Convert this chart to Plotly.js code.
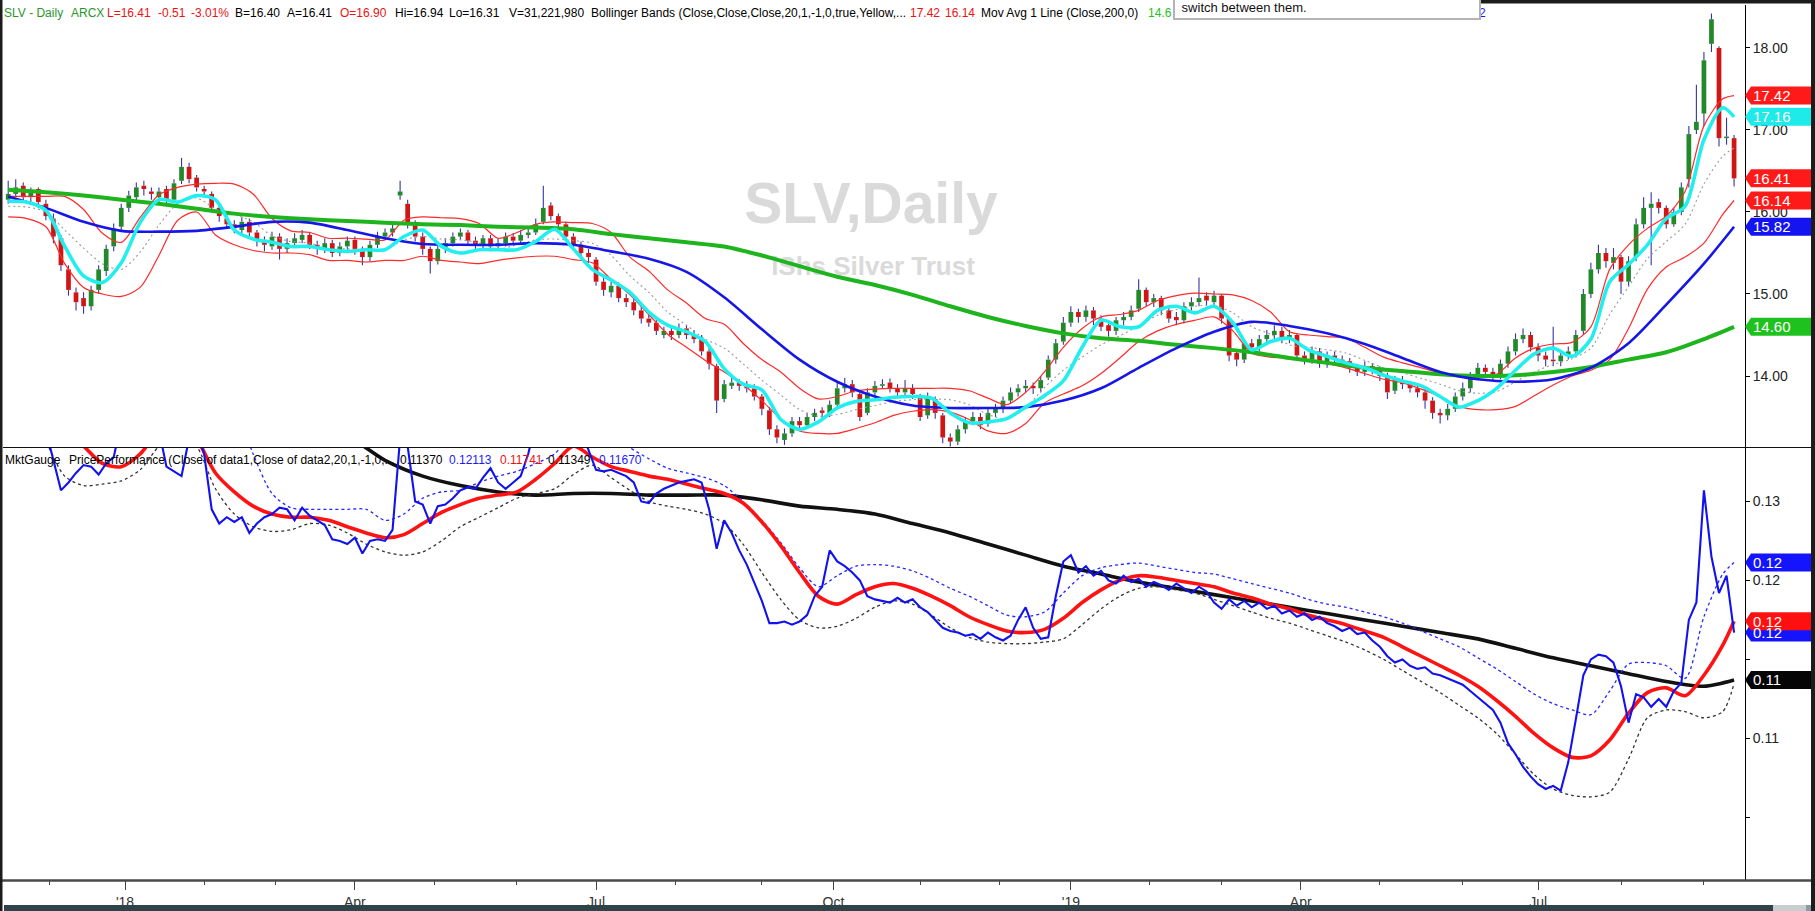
<!DOCTYPE html>
<html><head><meta charset="utf-8">
<script src="https://cdn.plot.ly/plotly-3.0.1.min.js"></script>
<style>html,body{margin:0;padding:0;background:#fff;overflow:hidden}#chart{width:1815px;height:911px}</style>
</head><body><div id="chart"></div>
<script>
// ---------------- DATA ----------------
const candleStep = 2, lineStep = 5, slowStep = 10, lastDay = 458;

const open = [
16.15,16.22,16.32,16.18,16.28,16.10,15.92,15.68,15.30,15.02,
14.95,14.85,15.05,15.28,15.58,15.82,16.05,16.18,16.32,16.25,
16.18,16.28,16.15,16.38,16.55,16.42,16.28,16.22,16.05,15.92,
15.85,15.78,15.88,15.75,15.66,15.58,15.70,15.55,15.62,15.66,
15.72,15.60,15.55,15.62,15.50,15.58,15.66,15.55,15.45,15.60,
15.70,15.75,16.20,16.10,15.85,15.70,15.55,15.40,15.55,15.62,
15.70,15.75,15.65,15.60,15.68,15.58,15.62,15.70,15.65,15.72,
15.75,15.88,16.08,15.95,15.85,15.70,15.60,15.50,15.42,15.15,
15.02,15.10,14.95,14.90,14.80,14.70,14.65,14.50,14.55,14.50,
14.58,14.50,14.45,14.30,14.12,13.72,13.88,13.92,13.88,13.85,
13.75,13.58,13.35,13.22,13.30,13.45,13.40,13.50,13.58,13.55,
13.65,13.85,13.90,13.78,13.55,13.80,13.88,13.92,13.85,13.80,
13.85,13.75,13.52,13.72,13.52,13.25,13.20,13.35,13.45,13.50,
13.42,13.55,13.60,13.70,13.80,13.85,13.88,13.85,13.98,14.20,
14.42,14.65,14.78,14.72,14.80,14.70,14.62,14.55,14.68,14.72,
14.82,15.05,14.90,14.95,14.80,14.72,14.68,14.85,14.90,14.98,
14.90,14.98,14.70,14.28,14.20,14.40,14.35,14.45,14.50,14.55,
14.45,14.50,14.25,14.20,14.30,14.15,14.25,14.20,14.18,14.10,
14.05,14.12,14.08,14.00,13.82,13.95,13.90,13.85,13.80,13.70,
13.55,13.52,13.60,13.75,13.85,14.00,14.10,14.05,14.00,14.15,
14.30,14.45,14.50,14.35,14.25,14.20,14.18,14.25,14.30,14.55,
15.00,15.30,15.50,15.38,15.45,15.15,15.45,15.85,16.05,16.12,
16.05,15.85,16.00,16.40,17.00,17.20,18.05,18.00,16.90,16.90];

const high = [
16.38,16.40,16.36,16.30,16.30,16.15,15.98,15.72,15.35,15.08,
15.02,15.10,15.35,15.60,15.86,16.10,16.26,16.36,16.38,16.30,
16.30,16.32,16.40,16.66,16.60,16.45,16.32,16.25,16.10,15.98,
15.90,15.94,15.92,15.78,15.70,15.76,15.74,15.68,15.74,15.78,
15.76,15.65,15.68,15.66,15.63,15.70,15.70,15.58,15.65,15.76,
15.80,15.86,16.38,16.15,15.90,15.75,15.58,15.60,15.68,15.75,
15.80,15.78,15.70,15.72,15.72,15.68,15.75,15.74,15.78,15.80,
15.92,16.32,16.12,15.98,15.88,15.74,15.64,15.55,15.45,15.20,
15.15,15.14,15.00,14.94,14.85,14.75,14.70,14.60,14.62,14.64,
14.62,14.56,14.50,14.35,14.15,13.95,13.98,13.96,13.94,13.90,
13.78,13.62,13.40,13.36,13.50,13.50,13.55,13.60,13.62,13.70,
13.92,13.98,13.95,13.80,13.85,13.94,13.96,13.97,13.90,13.95,
13.90,13.78,13.80,13.75,13.55,13.30,13.40,13.50,13.56,13.55,
13.60,13.66,13.75,13.86,13.90,13.95,13.92,14.00,14.25,14.45,
14.72,14.85,14.82,14.86,14.84,14.74,14.66,14.72,14.78,14.86,
15.18,15.08,15.00,14.98,14.84,14.78,14.90,14.96,15.20,15.02,
15.04,15.00,14.72,14.32,14.45,14.45,14.50,14.56,14.62,14.60,
14.56,14.52,14.30,14.36,14.34,14.30,14.30,14.25,14.22,14.15,
14.18,14.16,14.12,14.04,14.00,14.00,13.94,13.90,13.84,13.74,
13.60,13.66,13.80,13.92,14.05,14.16,14.14,14.10,14.20,14.36,
14.52,14.58,14.54,14.40,14.30,14.60,14.30,14.36,14.56,15.06,
15.38,15.60,15.56,15.56,15.48,15.46,15.92,16.18,16.24,16.16,
16.08,16.05,16.36,17.05,17.55,17.95,18.42,18.02,17.15,16.94];

const low = [
16.10,16.18,16.12,16.12,16.05,15.90,15.62,15.28,14.98,14.80,
14.76,14.80,15.00,15.22,15.52,15.78,16.00,16.12,16.20,16.15,
16.12,16.08,16.12,16.34,16.35,16.25,16.18,16.00,15.88,15.80,
15.74,15.74,15.70,15.58,15.52,15.54,15.42,15.50,15.58,15.62,
15.55,15.48,15.50,15.45,15.46,15.54,15.48,15.35,15.40,15.56,
15.66,15.70,16.15,15.80,15.64,15.48,15.25,15.36,15.50,15.58,
15.66,15.60,15.54,15.55,15.52,15.54,15.58,15.60,15.62,15.68,
15.72,15.85,15.90,15.80,15.66,15.55,15.45,15.38,15.10,14.98,
14.96,14.90,14.84,14.74,14.64,14.60,14.50,14.46,14.44,14.46,
14.45,14.40,14.25,14.08,13.55,13.68,13.84,13.82,13.80,13.70,
13.52,13.28,13.18,13.16,13.26,13.34,13.36,13.45,13.48,13.50,
13.62,13.80,13.74,13.45,13.52,13.76,13.84,13.80,13.75,13.76,
13.72,13.45,13.48,13.48,13.18,13.14,13.16,13.30,13.40,13.35,
13.38,13.50,13.55,13.66,13.75,13.80,13.78,13.80,13.95,14.15,
14.38,14.60,14.65,14.66,14.62,14.55,14.48,14.50,14.62,14.68,
14.78,14.85,14.84,14.74,14.65,14.62,14.64,14.80,14.85,14.86,
14.85,14.64,14.18,14.12,14.16,14.28,14.30,14.40,14.45,14.40,
14.40,14.20,14.14,14.15,14.10,14.10,14.15,14.12,14.04,14.00,
14.00,14.02,13.94,13.72,13.78,13.84,13.80,13.74,13.60,13.48,
13.42,13.46,13.56,13.70,13.80,13.95,13.98,13.94,13.96,14.10,
14.25,14.40,14.30,14.18,14.12,14.12,14.12,14.20,14.26,14.50,
14.95,15.25,15.32,15.30,15.00,15.10,15.40,15.80,15.35,15.98,
15.80,15.82,15.96,16.30,16.95,17.05,17.95,16.80,16.82,16.31];

const close = [
16.22,16.30,16.18,16.25,16.12,15.95,15.70,15.35,15.05,14.90,
14.85,15.05,15.30,15.55,15.80,16.05,16.20,16.30,16.28,16.22,
16.25,16.15,16.35,16.55,16.40,16.30,16.25,16.05,15.95,15.85,
15.80,15.88,15.75,15.65,15.60,15.70,15.55,15.62,15.68,15.72,
15.60,15.55,15.62,15.50,15.58,15.65,15.55,15.45,15.60,15.70,
15.75,15.80,16.25,15.85,15.70,15.55,15.40,15.55,15.62,15.70,
15.75,15.65,15.60,15.68,15.58,15.62,15.70,15.65,15.72,15.75,
15.85,16.05,15.95,15.85,15.70,15.60,15.50,15.45,15.15,15.05,
15.10,14.95,14.90,14.80,14.70,14.65,14.55,14.55,14.50,14.58,
14.50,14.45,14.30,14.15,13.70,13.90,13.92,13.88,13.85,13.75,
13.60,13.35,13.25,13.30,13.45,13.40,13.50,13.55,13.55,13.65,
13.85,13.90,13.80,13.50,13.80,13.88,13.90,13.85,13.80,13.85,
13.78,13.50,13.75,13.55,13.25,13.20,13.35,13.45,13.50,13.40,
13.55,13.60,13.70,13.80,13.85,13.88,13.85,13.95,14.20,14.40,
14.65,14.78,14.72,14.80,14.70,14.60,14.55,14.68,14.72,14.80,
15.05,14.90,14.95,14.80,14.70,14.68,14.85,14.90,14.95,14.92,
14.98,14.70,14.25,14.20,14.40,14.35,14.45,14.50,14.55,14.45,
14.50,14.25,14.20,14.30,14.15,14.25,14.20,14.18,14.10,14.05,
14.12,14.08,14.00,13.80,13.95,13.90,13.85,13.80,13.70,13.55,
13.52,13.60,13.75,13.85,14.00,14.10,14.05,14.00,14.15,14.30,
14.45,14.50,14.35,14.25,14.20,14.18,14.25,14.30,14.50,15.00,
15.30,15.50,15.40,15.45,15.15,15.40,15.85,16.05,16.10,16.05,
15.85,16.00,16.30,16.95,17.10,17.85,18.35,16.90,16.92,16.41];

const quoteBidAsk = [16.40, 16.41];
const quoteVolume = [31221980];

// Bollinger (20,1,-1) every 5 trading days
const bbUpper = [
16.19,16.19,16.19,16.19,16.03,15.74,15.63,15.93,16.21,16.30,
16.34,16.35,16.34,16.22,15.92,15.77,15.75,15.68,15.68,15.67,
15.66,15.90,15.94,15.93,15.92,15.86,15.68,15.75,15.85,15.88,
15.87,15.86,15.75,15.45,15.28,15.05,14.89,14.70,14.63,14.40,
14.20,14.05,13.85,13.72,13.75,13.82,13.84,13.85,13.85,13.85,
13.85,13.82,13.73,13.65,13.80,14.05,14.35,14.58,14.72,14.75,
14.80,14.92,14.98,15.01,15.00,14.99,14.92,14.78,14.54,14.50,
14.48,14.46,14.35,14.23,14.16,14.10,14.04,14.01,13.98,14.02,
14.22,14.34,14.39,14.41,14.60,15.30,15.60,15.80,15.95,16.25,
17.05,17.38,17.42];
const bbLower = [
15.94,15.92,15.82,15.37,15.08,15.00,14.97,15.08,15.47,15.90,
16.00,15.72,15.60,15.53,15.50,15.50,15.48,15.41,15.41,15.39,
15.41,15.41,15.46,15.41,15.39,15.37,15.41,15.44,15.46,15.46,
15.42,15.38,15.18,14.99,14.75,14.51,14.35,14.19,14.05,13.90,
13.70,13.48,13.33,13.30,13.30,13.36,13.43,13.52,13.57,13.59,
13.56,13.47,13.33,13.30,13.42,13.67,13.78,13.88,14.03,14.22,
14.42,14.55,14.63,14.68,14.72,14.55,14.28,14.23,14.22,14.19,
14.15,14.10,14.03,13.96,13.92,13.84,13.75,13.63,13.59,13.59,
13.63,13.76,13.89,14.00,14.07,14.20,14.58,15.06,15.33,15.45,
15.62,15.97,16.14];
const bbMiddle = [
16.07,16.06,16.00,15.78,15.56,15.37,15.30,15.51,15.84,16.10,
16.17,16.04,15.97,15.88,15.71,15.64,15.62,15.55,15.55,15.53,
15.54,15.66,15.70,15.67,15.66,15.62,15.55,15.60,15.66,15.67,
15.65,15.62,15.47,15.22,15.02,14.78,14.62,14.45,14.34,14.15,
13.95,13.77,13.59,13.51,13.53,13.59,13.64,13.69,13.71,13.72,
13.71,13.65,13.53,13.48,13.61,13.86,14.07,14.23,14.38,14.49,
14.61,14.74,14.81,14.85,14.86,14.77,14.60,14.51,14.38,14.35,
14.32,14.28,14.19,14.10,14.04,13.97,13.90,13.82,13.79,13.81,
13.93,14.05,14.14,14.21,14.34,14.75,15.09,15.43,15.64,15.85,
16.34,16.68,16.78];
// fast average (cyan), every 5 trading days
const fastAvg = [
16.13,16.12,16.02,15.58,15.22,15.14,15.38,15.87,16.15,16.12,
16.20,16.15,15.78,15.67,15.63,15.58,15.58,15.54,15.52,15.54,
15.54,15.70,15.78,15.58,15.50,15.54,15.54,15.54,15.64,15.79,
15.55,15.30,15.17,15.02,14.78,14.62,14.54,14.42,14.09,13.90,
13.83,13.47,13.35,13.44,13.61,13.69,13.71,13.74,13.75,13.73,
13.55,13.43,13.44,13.48,13.62,13.76,13.94,14.35,14.68,14.60,
14.60,14.80,14.85,14.77,14.85,14.65,14.32,14.42,14.46,14.32,
14.24,14.16,14.10,14.01,13.94,13.88,13.75,13.62,13.70,13.85,
14.07,14.27,14.34,14.24,14.45,15.15,15.36,15.60,15.92,16.07,
16.88,17.27,17.16];
// 200-day (green) and 50-day (blue) averages, every 10 trading days
const ma200 = [
16.27,16.24,16.20,16.15,16.10,16.04,15.98,15.94,15.91,15.89,
15.87,15.85,15.84,15.82,15.81,15.79,15.73,15.68,15.63,15.58,
15.47,15.34,15.21,15.11,14.99,14.85,14.72,14.61,14.52,14.46,
14.43,14.38,14.34,14.29,14.22,14.16,14.10,14.06,14.02,14.00,
14.01,14.05,14.11,14.20,14.29,14.45,14.60];
const ma50 = [
16.19,16.05,15.88,15.77,15.76,15.77,15.82,15.88,15.87,15.78,
15.68,15.61,15.60,15.60,15.62,15.60,15.52,15.43,15.27,14.96,
14.57,14.20,13.93,13.75,13.64,13.61,13.61,13.62,13.70,13.85,
14.10,14.34,14.54,14.66,14.61,14.52,14.39,14.22,14.05,13.96,
13.93,13.96,14.10,14.40,14.87,15.37,15.82];

// Price performance panel
const perf = [
0.1300,0.1300,0.1300,0.1300,0.1300,0.1295,0.1276,0.1257,0.1262,0.1268,
0.1273,0.1272,0.1267,0.1274,0.1278,0.1300,0.1300,0.1300,0.1300,0.1300,
0.1295,0.1272,0.1269,0.1266,0.1290,0.1295,0.1280,0.1245,0.1236,0.1240,
0.1237,0.1240,0.1230,0.1236,0.1240,0.1242,0.1246,0.1245,0.1238,0.1246,
0.1241,0.1238,0.1235,0.1226,0.1225,0.1223,0.1227,0.1217,0.1225,0.1226,
0.1225,0.1232,0.1290,0.1285,0.1250,0.1248,0.1236,0.1247,0.1248,0.1252,
0.1257,0.1259,0.1258,0.1265,0.1271,0.1262,0.1258,0.1262,0.1266,0.1280,
0.1300,0.1300,0.1300,0.1300,0.1300,0.1300,0.1295,0.1282,0.1270,0.1269,
0.1270,0.1268,0.1266,0.1262,0.1250,0.1249,0.1255,0.1258,0.1260,0.1262,
0.1263,0.1264,0.1262,0.1245,0.1220,0.1238,0.1230,0.1219,0.1210,0.1198,
0.1187,0.1173,0.1173,0.1174,0.1172,0.1174,0.1178,0.1190,0.1196,0.1219,
0.1212,0.1209,0.1205,0.1200,0.1190,0.1188,0.1187,0.1186,0.1189,0.1186,
0.1188,0.1183,0.1180,0.1175,0.1170,0.1168,0.1167,0.1165,0.1166,0.1163,
0.1167,0.1164,0.1162,0.1165,0.1175,0.1183,0.1170,0.1163,0.1164,0.1190,
0.1212,0.1216,0.1205,0.1209,0.1203,0.1206,0.1200,0.1198,0.1203,0.1199,
0.1201,0.1196,0.1199,0.1197,0.1194,0.1198,0.1195,0.1192,0.1196,0.1193,
0.1186,0.1182,0.1188,0.1184,0.1187,0.1183,0.1186,0.1182,0.1184,0.1179,
0.1181,0.1177,0.1179,0.1175,0.1177,0.1173,0.1171,0.1168,0.1170,0.1166,
0.1167,0.1162,0.1158,0.1152,0.1148,0.1150,0.1146,0.1144,0.1145,0.1141,
0.1140,0.1138,0.1136,0.1134,0.1130,0.1126,0.1122,0.1118,0.1110,0.1097,
0.1090,0.1082,0.1076,0.1071,0.1068,0.1070,0.1067,0.1085,0.1112,0.1140,
0.1150,0.1153,0.1152,0.1148,0.1133,0.1110,0.1128,0.1126,0.1120,0.1125,
0.1120,0.1130,0.1135,0.1175,0.1186,0.1257,0.1215,0.1192,0.1203,0.11670];
const perfMid = [
0.1310,0.1310,0.1305,0.1295,0.1285,0.1274,0.1272,0.1280,0.1295,0.1305,
0.1290,0.1268,0.1256,0.1247,0.1242,0.1240,0.1240,0.1238,0.1234,0.1230,
0.1227,0.1229,0.1236,0.1243,0.1248,0.1252,0.1254,0.1256,0.1264,0.1274,
0.1285,0.1278,0.1272,0.1269,0.1266,0.1264,0.1261,0.1258,0.1255,0.1249,
0.1237,0.1222,0.1205,0.1190,0.1185,0.1191,0.1196,0.1198,0.1195,0.1190,
0.1184,0.1177,0.1172,0.1168,0.1167,0.1169,0.1176,0.1186,0.1194,0.1200,
0.1203,0.1202,0.1200,0.1198,0.1196,0.1192,0.1189,0.1185,0.1182,0.1178,
0.1175,0.1172,0.1168,0.1164,0.1158,0.1152,0.1146,0.1140,0.1133,0.1124,
0.1114,0.1103,0.1094,0.1088,0.1089,0.1099,0.1116,0.1129,0.1132,0.1127,
0.1140,0.1159,0.11741];
const perfUpper = [
0.1310,0.1310,0.1310,0.1310,0.1310,0.1310,0.1310,0.1310,0.1310,0.1310,
0.1310,0.1310,0.1310,0.1280,0.1255,0.1246,0.1245,0.1245,0.1245,0.1245,
0.1238,0.1242,0.1252,0.1256,0.1257,0.1262,0.1266,0.1269,0.1274,0.1280,
0.1295,0.1300,0.1292,0.1284,0.1277,0.1271,0.1268,0.1265,0.1260,0.1250,
0.1238,0.1224,0.1208,0.1196,0.1203,0.1209,0.1210,0.1209,0.1206,0.1201,
0.1195,0.1190,0.1184,0.1178,0.1177,0.1180,0.1192,0.1203,0.1208,0.1210,
0.1211,0.1209,0.1207,0.1205,0.1204,0.1201,0.1198,0.1195,0.1192,0.1188,
0.1185,0.1183,0.1180,0.1177,0.1173,0.1168,0.1163,0.1158,0.1151,0.1144,
0.1136,0.1128,0.1122,0.1118,0.1115,0.1130,0.1147,0.1148,0.1146,0.1138,
0.1177,0.1204,0.12113];
const perfLower = [
0.1310,0.1310,0.1288,0.1266,0.1260,0.1261,0.1263,0.1270,0.1285,0.1295,
0.1285,0.1258,0.1242,0.1234,0.1231,0.1232,0.1236,0.1235,0.1230,0.1223,
0.1218,0.1216,0.1218,0.1225,0.1234,0.1240,0.1246,0.1252,0.1255,0.1258,
0.1267,0.1273,0.1265,0.1257,0.1250,0.1247,0.1245,0.1242,0.1236,0.1223,
0.1205,0.1188,0.1175,0.1170,0.1171,0.1176,0.1183,0.1187,0.1185,0.1178,
0.1170,0.1164,0.1161,0.1160,0.1160,0.1161,0.1163,0.1172,0.1182,0.1190,
0.1195,0.1196,0.1194,0.1192,0.1188,0.1184,0.1180,0.1176,0.1173,0.1169,
0.1165,0.1161,0.1156,0.1150,0.1143,0.1136,0.1129,0.1121,0.1113,0.1103,
0.1090,0.1077,0.1068,0.1064,0.1063,0.1066,0.1087,0.1113,0.1118,0.1117,
0.1113,0.1117,0.11349];
const perfLong = [
0.1310,0.1310,0.1310,0.1310,0.1308,0.1305,0.1300,0.1298,0.1295,0.1291,
0.1276,0.1266,0.1260,0.1256,0.1254,0.1255,0.1255,0.1254,0.1254,0.1254,
0.1251,0.1247,0.1245,0.1242,0.1236,0.1230,0.1223,0.1216,0.1209,0.1204,
0.1199,0.1195,0.1191,0.1187,0.1183,0.1179,0.1175,0.1171,0.1167,0.1163,
0.1157,0.1151,0.1146,0.1141,0.1136,0.1133,0.11370];

// Axis ticks (trading-day index of month starts)
const monthTickDays = [31, 92, 156, 219, 282, 343, 406];
const monthTickLabels = ["'18", "Apr", "Jul", "Oct", "'19", "Apr", "Jul"];
const minorTickDays = [11, 52, 71, 113, 135, 177, 200, 242, 263, 303, 322, 364, 386, 428, 450];
const priceTicks = [14, 15, 16, 17, 18];
const perfTicks = [0.105, 0.110, 0.115, 0.120, 0.125];
const perfTickLabels = ["", "0.11", "", "0.12", "0.13"];

// ---------------- GEOMETRY ----------------
const PL = 3, PR = 1745, PT = 5, PB = 880;
const XR = [-1.38, 460.9];
const YR1 = [13.122, 18.524];
const YR2 = [0.10104, 0.12838];
const splitPx = 448;
const dom2Top = (PB - splitPx) / (PB - PT);
const paperX = px => (px - PL) / (PR - PL);
const paperY = py => (PB - py) / (PB - PT);
const pxToDay = px => XR[0] + (px - PL) / (PR - PL) * (XR[1] - XR[0]);
const pyToPrice = py => YR1[1] - (py - PT) / (splitPx - PT) * (YR1[1] - YR1[0]);
const daysFor = (n, step) => Array.from({length: n}, (_, k) => Math.min(k * step, lastDay));

// ---------------- TRACES ----------------
const traces = [];
const F = 'Liberation Sans, Arial, sans-serif';

// watermark (below all marks)
traces.push({type:'scatter', mode:'text', x:[pxToDay(871), pxToDay(873)], y:[pyToPrice(209), pyToPrice(268)],
  text:['SLV,Daily', 'iShs Silver Trust'], textposition:'middle center',
  textfont:{family:F, size:[57, 26], color:'#dadada', weight:700}, hoverinfo:'skip', xaxis:'x', yaxis:'y'});

// candle bodies + wicks
const upX=[],upB=[],upH=[],dnX=[],dnB=[],dnH=[], wx=[], wy=[];
close.forEach((c, k) => {
  const o = open[k], d = k * candleStep, lo = Math.min(o, c), hi = Math.max(o, c);
  const h = Math.max(hi - lo, 0.018);
  if (c >= o) { upX.push(d); upB.push(lo); upH.push(h); } else { dnX.push(d); dnB.push(lo); dnH.push(h); }
  wx.push(d, d, null, d, d, null); wy.push(high[k], hi, null, lo, low[k], null);
});
traces.push({type:'bar', x:upX, y:upH, base:upB, width:1.25, marker:{color:'#23882a', line:{width:0}}, xaxis:'x', yaxis:'y', hoverinfo:'skip'});
traces.push({type:'bar', x:dnX, y:dnH, base:dnB, width:1.25, marker:{color:'#d01515', line:{width:0}}, xaxis:'x', yaxis:'y', hoverinfo:'skip'});
traces.push({type:'scatter', mode:'lines', x:wx, y:wy, line:{color:'#3434a6', width:1.1}, connectgaps:false, xaxis:'x', yaxis:'y', hoverinfo:'skip'});

const lineTrace = (y, step, color, width, dash, yaxis, shape) => ({type:'scatter', mode:'lines',
  x: daysFor(y.length, step), y, line:{color, width, dash: dash || 'solid', shape: shape || 'spline', smoothing: 0.8},
  xaxis:'x', yaxis, hoverinfo:'skip'});

traces.push(lineTrace(bbUpper, lineStep, '#ff2a2a', 1.2, null, 'y'));
traces.push(lineTrace(bbLower, lineStep, '#ff2a2a', 1.2, null, 'y'));
traces.push(lineTrace(bbMiddle, lineStep, '#9a9a9a', 1.1, '2px,3px', 'y'));
traces.push(lineTrace(ma200, slowStep, '#1db41d', 4, null, 'y'));
traces.push(lineTrace(ma50, slowStep, '#1616e6', 2.6, null, 'y'));
traces.push(lineTrace(fastAvg, lineStep, '#22eeee', 3.6, null, 'y'));

traces.push(lineTrace(perfLong, slowStep, '#111111', 3.6, null, 'y2'));
traces.push(lineTrace(perfUpper, lineStep, '#2626ff', 1.3, '3px,3px', 'y2'));
traces.push(lineTrace(perfMid, lineStep, '#ff1212', 3.6, null, 'y2'));
traces.push(lineTrace(perfLower, lineStep, '#333333', 1.3, '3px,3px', 'y2'));
traces.push(lineTrace(perf, candleStep, '#1212ee', 2.1, null, 'y2', 'linear'));

// ---------------- SHAPES & ANNOTATIONS ----------------
const shapes = [], annotations = [];
const rect = (x0, x1, y0, y1, color) => shapes.push({type:'rect', xref:'paper', yref:'paper',
  x0:paperX(x0), x1:paperX(x1), y0:paperY(y1), y1:paperY(y0), fillcolor:color, line:{width:0}, layer:'above'});

shapes.push({type:'line', xref:'paper', yref:'paper', x0:paperX(0), x1:paperX(1811), y0:paperY(880.5), y1:paperY(880.5), line:{color:'#4a4a4a', width:2.5}, layer:'above'});
shapes.push({type:'line', xref:'paper', yref:'paper', x0:paperX(PL), x1:paperX(1811), y0:paperY(447.5), y1:paperY(447.5), line:{color:'#111', width:1.2}, layer:'above'});
rect(0, 2.5, 0, 911, '#1c1c1c');
rect(1811, 1815, 0, 911, '#1c1c1c');
rect(1478, 1815, 0, 3.5, '#1c1c1c');
rect(4, 1773, 905, 911, '#2e4448');
rect(1773, 1806, 905, 911, '#c9cdd0');
rect(1806, 1811, 905, 911, '#8a9aa8');

function tag(value, yref, color, textColor) {
  shapes.push({type:'path', xref:'paper', yref, xsizemode:'pixel', ysizemode:'pixel', xanchor:1, yanchor:value,
    path:'M0,0 L6,9 L66,9 L66,-9 L6,-9 Z', fillcolor:color, line:{width:0}, layer:'above'});
  annotations.push({xref:'paper', yref, x:1, xanchor:'left', xshift:6, y:value, yanchor:'middle', showarrow:false,
    text:value.toFixed(2), font:{family:F, size:15, color:textColor || '#ffffff'}});
}
tag(bbUpper.at(-1), 'y', '#ff1a1a');
tag(fastAvg.at(-1), 'y', '#1eeaea');
tag(close.at(-1), 'y', '#ff1a1a');
tag(bbLower.at(-1), 'y', '#ff1a1a');
tag(ma50.at(-1), 'y', '#1414f0');
tag(ma200.at(-1), 'y', '#1ec21e');
tag(perfUpper.at(-1), 'y2', '#1414ff');
tag(perf.at(-1), 'y2', '#1414ff');
tag(perfMid.at(-1), 'y2', '#ff1010');
tag(perfLong.at(-1), 'y2', '#050505');

// header items placed one by one
const headerItem = (px, py, text, color) => annotations.push({xref:'paper', yref:'paper', x:paperX(px - 1), xanchor:'left',
  y:paperY(py), yanchor:'middle', showarrow:false, text, borderpad:0, font:{family:F, size:12, color}});
const RED = '#ee1111', GRN = '#2a962a', BLK = '#000000', BLU = '#1a1aff';
const lastC = close.at(-1), prevC = close.at(-2), chg = lastC - prevC;
headerItem(4, 13, 'SLV - Daily', GRN);
headerItem(71, 13, 'ARCX', GRN);
headerItem(107, 13, 'L=' + lastC.toFixed(2), RED);
headerItem(158, 13, chg.toFixed(2), RED);
headerItem(191, 13, (chg / prevC * 100).toFixed(2) + '%', RED);
headerItem(235, 13, 'B=' + quoteBidAsk[0].toFixed(2), BLK);
headerItem(287, 13, 'A=' + quoteBidAsk[1].toFixed(2), BLK);
headerItem(340, 13, 'O=' + open.at(-1).toFixed(2), RED);
headerItem(395, 13, 'Hi=' + high.at(-1).toFixed(2), BLK);
headerItem(449, 13, 'Lo=' + low.at(-1).toFixed(2), BLK);
headerItem(509, 13, 'V=' + quoteVolume[0].toLocaleString('en-US'), BLK);
headerItem(591, 13, 'Bollinger Bands (Close,Close,Close,20,1,-1,0,true,Yellow,...', BLK);
headerItem(910, 13, bbUpper.at(-1).toFixed(2), RED);
headerItem(945, 13, bbLower.at(-1).toFixed(2), RED);
headerItem(981, 13, 'Mov Avg 1 Line (Close,200,0)', BLK);
headerItem(1148, 13, ma200.at(-1).toFixed(2).slice(0, 4), '#22c422');
headerItem(1479, 13, '2', BLU);

headerItem(5, 460, 'MktGauge', BLK);
headerItem(69, 460, 'PricePerformance (Close of data1,Close of data2,20,1,-1,0,...', BLK);
headerItem(400, 460, perfLong.at(-1).toFixed(5), BLK);
headerItem(449, 460, perfUpper.at(-1).toFixed(5), BLU);
headerItem(500, 460, perfMid.at(-1).toFixed(5), RED);
headerItem(548, 460, perfLower.at(-1).toFixed(5), BLK);
headerItem(599, 460, perf.at(-1).toFixed(5), BLU);

// tooltip box at the top
annotations.push({xref:'paper', yref:'paper', x:paperX(1173), xanchor:'left', y:paperY(20), yanchor:'bottom', showarrow:false,
  text:'\u00a0switch between them.', width:298, height:30, align:'left', valign:'bottom', bgcolor:'#ffffff',
  bordercolor:'#b4b4b4', borderwidth:2, borderpad:3, font:{family:F, size:13, color:'#111'}});

// ---------------- LAYOUT ----------------
const layout = {
  width:1815, height:911, margin:{l:PL, r:1815 - PR, t:PT, b:911 - PB, pad:0},
  paper_bgcolor:'#ffffff', plot_bgcolor:'#ffffff', showlegend:false, barmode:'overlay', hovermode:false,
  xaxis:{range:XR, anchor:'y2', showgrid:false, zeroline:false, showline:false, automargin:false,
    tickmode:'array', tickvals:monthTickDays, ticktext:monthTickLabels, ticks:'outside', ticklen:9, tickwidth:1, tickcolor:'#444',
    tickfont:{family:'Liberation Sans Narrow, Liberation Sans, sans-serif', size:14, color:'#333'},
    minor:{tickmode:'array', tickvals:minorTickDays, ticks:'outside', ticklen:4, tickwidth:1, tickcolor:'#444', showgrid:false}},
  yaxis:{domain:[dom2Top, 1], range:YR1, side:'right', anchor:'x', showgrid:false, zeroline:false, automargin:false,
    showline:true, linecolor:'#000', linewidth:1, ticks:'outside', ticklen:4, tickcolor:'#000',
    tickmode:'array', tickvals:priceTicks, ticktext:priceTicks.map(v => v.toFixed(2)),
    tickfont:{family:F, size:14, color:'#222'}},
  yaxis2:{domain:[0, dom2Top], range:YR2, side:'right', anchor:'x', showgrid:false, zeroline:false, automargin:false,
    showline:true, linecolor:'#000', linewidth:1, ticks:'outside', ticklen:4, tickcolor:'#000',
    tickmode:'array', tickvals:perfTicks, ticktext:perfTickLabels,
    tickfont:{family:F, size:14, color:'#222'}},
  shapes, annotations
};

Plotly.newPlot('chart', traces, layout, {staticPlot:true, displayModeBar:false});
</script></body></html>
